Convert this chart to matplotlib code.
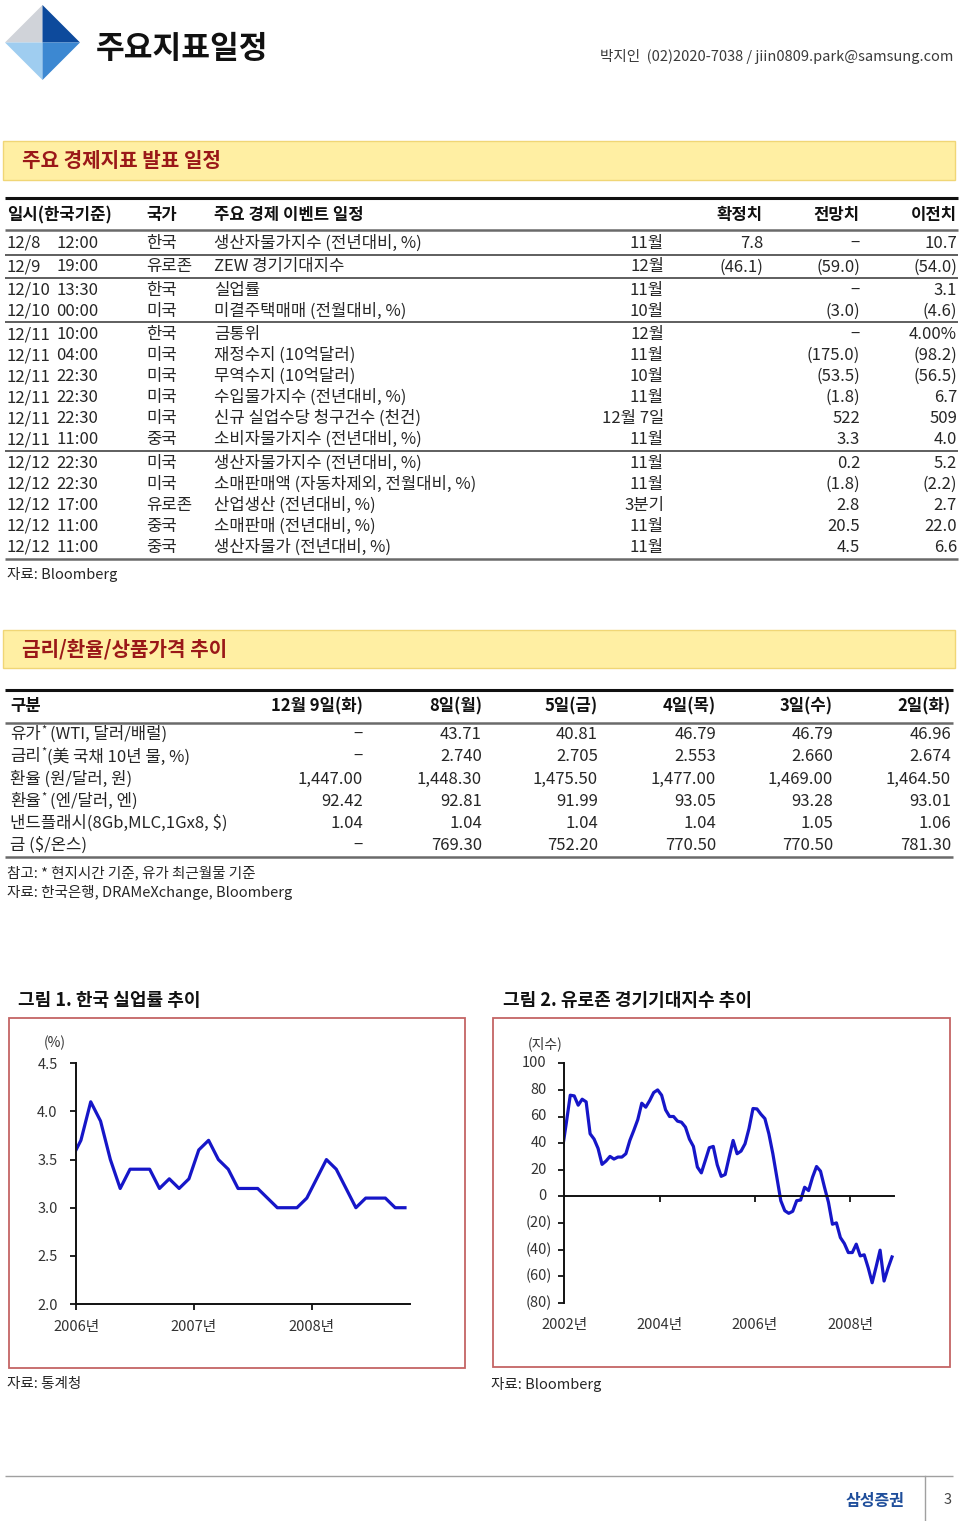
import matplotlib
matplotlib.use('Agg')
import matplotlib.pyplot as plt
from matplotlib.patches import Rectangle, Polygon
import matplotlib.transforms as mtransforms
import numpy as np

FAM = ['Noto Sans CJK KR', 'DejaVu Sans']
plt.rcParams['font.family'] = FAM

# ---------------- data ----------------
title = "주요지표일정"
contact = "박지인  (02)2020-7038 / jiin0809.park@samsung.com"
sec1_title = "주요 경제지표 발표 일정"
sec2_title = "금리/환율/상품가격 추이"

t1_headers = ["일시(한국기준)", "국가", "주요 경제 이벤트 일정", "확정치", "전망치", "이전치"]
t1_dates = ["12/8", "12/9", "12/10", "12/10", "12/11", "12/11", "12/11", "12/11", "12/11", "12/11",
            "12/12", "12/12", "12/12", "12/12", "12/12"]
t1_times = ["12:00", "19:00", "13:30", "00:00", "10:00", "04:00", "22:30", "22:30", "22:30", "11:00",
            "22:30", "22:30", "17:00", "11:00", "11:00"]
t1_country = ["한국", "유로존", "한국", "미국", "한국", "미국", "미국", "미국", "미국", "중국",
              "미국", "미국", "유로존", "중국", "중국"]
t1_event = ["생산자물가지수 (전년대비, %)", "ZEW 경기기대지수", "실업률", "미결주택매매 (전월대비, %)",
            "금통위", "재정수지 (10억달러)", "무역수지 (10억달러)", "수입물가지수 (전년대비, %)",
            "신규 실업수당 청구건수 (천건)", "소비자물가지수 (전년대비, %)", "생산자물가지수 (전년대비, %)",
            "소매판매액 (자동차제외, 전월대비, %)", "산업생산 (전년대비, %)", "소매판매 (전년대비, %)",
            "생산자물가 (전년대비, %)"]
t1_period = ["11월", "12월", "11월", "10월", "12월", "11월", "10월", "11월", "12월 7일", "11월",
             "11월", "11월", "3분기", "11월", "11월"]
t1_actual = ["7.8", "(46.1)", "", "", "", "", "", "", "", "", "", "", "", "", ""]
t1_forecast = ["−", "(59.0)", "−", "(3.0)", "−", "(175.0)", "(53.5)", "(1.8)", "522", "3.3",
               "0.2", "(1.8)", "2.8", "20.5", "4.5"]
t1_previous = ["10.7", "(54.0)", "3.1", "(4.6)", "4.00%", "(98.2)", "(56.5)", "6.7", "509", "4.0",
               "5.2", "(2.2)", "2.7", "22.0", "6.6"]
t1_groups = [1, 1, 2, 6, 5]
t1_source = "자료: Bloomberg"

t2_headers = ["구분", "12월 9일(화)", "8일(월)", "5일(금)", "4일(목)", "3일(수)", "2일(화)"]
t2_labels = ["유가* (WTI, 달러/배럴)", "금리*(美 국채 10년 물, %)", "환율 (원/달러, 원)",
             "환율* (엔/달러, 엔)", "낸드플래시(8Gb,MLC,1Gx8, $)", "금 ($/온스)"]
t2_oil = ["−", "43.71", "40.81", "46.79", "46.79", "46.96"]
t2_rate = ["−", "2.740", "2.705", "2.553", "2.660", "2.674"]
t2_krw = ["1,447.00", "1,448.30", "1,475.50", "1,477.00", "1,469.00", "1,464.50"]
t2_jpy = ["92.42", "92.81", "91.99", "93.05", "93.28", "93.01"]
t2_nand = ["1.04", "1.04", "1.04", "1.04", "1.05", "1.06"]
t2_gold = ["−", "769.30", "752.20", "770.50", "770.50", "781.30"]
t2_note = "참고: * 현지시간 기준, 유가 최근월물 기준"
t2_source = "자료: 한국은행, DRAMeXchange, Bloomberg"

fig1_title = "그림 1. 한국 실업률 추이"
fig2_title = "그림 2. 유로존 경기기대지수 추이"
fig1_source = "자료: 통계청"
fig2_source = "자료: Bloomberg"

# Korea unemployment rate (%), monthly Dec-2005 .. Oct-2008
kr_unemp = [3.5, 3.7, 4.1, 3.9, 3.5, 3.2, 3.4, 3.4, 3.4, 3.2, 3.3, 3.2, 3.3,
            3.6, 3.7, 3.5, 3.4, 3.2, 3.2, 3.2, 3.1, 3.0, 3.0, 3.0, 3.1,
            3.3, 3.5, 3.4, 3.2, 3.0, 3.1, 3.1, 3.1, 3.0, 3.0]
kr_year_labels = ["2006년", "2007년", "2008년"]
kr_yticks = [2.0, 2.5, 3.0, 3.5, 4.0, 4.5]

# Eurozone ZEW index, monthly Dec-2001 .. Nov-2008
zew = [35, 55, 76, 75.5, 68.5, 73, 71, 47, 43, 36, 24, 26.5, 30, 28, 29.5, 29.5, 32, 42,
       49.6, 57.7, 70, 67, 72, 78, 80, 76, 65, 60, 60, 56.5, 55.7, 52, 43, 37.5, 22, 17.6,
       27, 36.5, 37.5, 23.7, 15, 16.4, 29.5, 42, 32, 34, 39.5, 51, 66, 65.7, 61.7, 58.4,
       47, 32, 14.4, -3.3, -10.8, -12.8, -11.3, -3.3, -2.8, 6.8, 4.3, 14.4, 22.4, 18.9,
       6.8, -4.5, -21, -20, -31, -35.5, -42.3, -42.3, -36, -44.8, -44, -53.7, -65, -53,
       -40.5, -63.7, -54, -45.6]
zew_year_labels = ["2002년", "2004년", "2006년", "2008년"]
zew_yticks = [100, 80, 60, 40, 20, 0, -20, -40, -60, -80]

footer_brand = "삼성증권"
page_no = "3"

# ---------------- figure ----------------
W, H = 960, 1521
fig = plt.figure(figsize=(W / 100, H / 100), dpi=100)
fig.patch.set_facecolor('white')
page = fig.add_axes([0, 0, 1, 1], zorder=0)
page.set_xlim(0, W)
page.set_ylim(H, 0)
page.axis('off')

BODY = '#262626'
BLUE = '#1616C8'
FS = 12.0


def put(x, y, s, size=FS, weight='normal', color=BODY, ha='left', va='center', **kw):
    return page.text(x, y, s, fontsize=size, fontweight=weight, color=color, ha=ha, va=va,
                     family=FAM, parse_math=False, **kw)


def hline(y, x0, x1, color, lw):
    page.plot([x0, x1], [y, y], color=color, lw=lw, solid_capstyle='butt')


renderer = fig.canvas.get_renderer()

# ---- header ----
cx, cy, r = 42.5, 42.5, 37.5
page.add_patch(Polygon([(cx, cy - r), (cx - r, cy), (cx, cy)], closed=True, fc='#D0D3D9', ec='none'))
page.add_patch(Polygon([(cx, cy - r), (cx + r, cy), (cx, cy)], closed=True, fc='#0D4A9C', ec='none'))
page.add_patch(Polygon([(cx - r, cy), (cx, cy + r), (cx, cy)], closed=True, fc='#9FCDF0', ec='none'))
page.add_patch(Polygon([(cx + r, cy), (cx, cy + r), (cx, cy)], closed=True, fc='#3C88D2', ec='none'))
put(96, 49, title, size=22.5, weight='bold', color='#111111')
put(953, 57, contact, size=10.5, color='#3a3a3a', ha='right')

# ---- section boxes ----
for (y0, h, txt) in [(141, 39, sec1_title), (630, 38, sec2_title)]:
    page.add_patch(Rectangle((3, y0), 952, h, fc='#FFEFA3', ec='#F0D676', lw=1.0))
    put(22, y0 + h / 2, txt, size=14.5, weight='bold', color='#9A1818')

# ---- table 1 ----
hline(198, 5, 958, '#111111', 2.2)
hx = [7, 146, 214]
for x, s in zip(hx, t1_headers[:3]):
    put(x, 215, s, weight='bold', color='#111111')
for x, s in zip([763, 860, 957], t1_headers[3:]):
    put(x, 215, s, weight='bold', color='#111111', ha='right')
hline(230, 5, 958, '#6a6a6a', 1.8)

row_h, gap = 21.0, 2.4
y = 233.0
i = 0
for gi, g in enumerate(t1_groups):
    for _ in range(g):
        yc = y + row_h / 2
        put(7, yc, t1_dates[i])
        put(56, yc, t1_times[i])
        put(146, yc, t1_country[i])
        put(214, yc, t1_event[i])
        put(664, yc, t1_period[i], ha='right')
        put(763, yc, t1_actual[i], ha='right')
        put(860, yc, t1_forecast[i], ha='right')
        put(957, yc, t1_previous[i], ha='right')
        y += row_h
        i += 1
    if gi < len(t1_groups) - 1:
        hline(y + 0.6, 5, 958, '#333333', 1.1)
        y += gap
hline(y + 1.2, 5, 958, '#6a6a6a', 1.8)
put(7, 575, t1_source, size=10.5)

# ---- table 2 ----
hline(689.5, 5, 953, '#111111', 2.2)
put(10, 706.5, t2_headers[0], weight='bold', color='#111111')
col_r = [363, 482, 598, 716, 833, 951]
for x, s in zip(col_r, t2_headers[1:]):
    put(x, 706.5, s, weight='bold', color='#111111', ha='right')
hline(722.7, 5, 953, '#6a6a6a', 1.8)

rows2 = [t2_oil, t2_rate, t2_krw, t2_jpy, t2_nand, t2_gold]
rh2 = 22.2
y = 723.5
for lab, vals in zip(t2_labels, rows2):
    yc = y + rh2 / 2
    if '*' in lab:
        before, after = lab.split('*', 1)
        t = put(10, yc, before)
        x = 10 + t.get_window_extent(renderer).width + 0.5
        ts = put(x, yc - 5, '*', size=8)
        x += ts.get_window_extent(renderer).width + (4 if after.startswith(' ') else 0.5)
        put(x, yc, after.lstrip())
    else:
        put(10, yc, lab)
    for x, v in zip(col_r, vals):
        put(x, yc, v, ha='right')
    y += rh2
hline(y, 5, 953, '#6a6a6a', 1.8)
put(7, 873, t2_note, size=10.5)
put(7, 893, t2_source, size=10.5)

# ---- figure titles / frames ----
put(18, 1000, fig1_title, size=13, weight='bold', color='#111111')
put(503, 1000, fig2_title, size=13, weight='bold', color='#111111')
page.add_patch(Rectangle((9, 1018), 456, 350, fc='none', ec='#C46464', lw=1.3))
page.add_patch(Rectangle((493, 1018), 457, 349, fc='none', ec='#C46464', lw=1.3))
put(7, 1384, fig1_source, size=10.5)
put(491, 1384, fig2_source, size=10.5)

# ---- footer ----
hline(1476, 5, 953, '#a0a0a0', 1.0)
page.plot([925, 925], [1476, 1521], color='#a0a0a0', lw=1.0)
put(905, 1501, footer_brand, size=11.5, weight='bold', color='#1F4E9B', ha='right')
put(948, 1500, page_no, size=10.5, color='#444444', ha='center')


def fig_rect(l, r, t, b):
    return [l / W, 1 - b / H, (r - l) / W, (b - t) / H]


# ---- chart 1 : Korea unemployment ----
ax1 = fig.add_axes(fig_rect(76, 409.9, 1063.3, 1304), zorder=2)
ax1.set_facecolor('none')
x1 = np.arange(len(kr_unemp)) - 0.5
ax1.plot(x1, kr_unemp, color=BLUE, lw=2.3)
ax1.set_xlim(0, 34)
ax1.set_ylim(2.0, 4.5)
for s in ['top', 'right']:
    ax1.spines[s].set_visible(False)
for s in ['left', 'bottom']:
    ax1.spines[s].set_linewidth(1.4)
    ax1.spines[s].set_color('#111111')
ax1.set_yticks(kr_yticks)
ax1.set_yticklabels([f"{v:.1f}" for v in kr_yticks])
ax1.set_xticks(np.arange(len(kr_year_labels)) * 12)
ax1.set_xticklabels(kr_year_labels)
ax1.tick_params(axis='y', direction='out', length=4.3, width=1.3, pad=9, labelsize=10.5,
                colors='#111111', labelcolor='#333333')
ax1.tick_params(axis='x', direction='out', length=4.3, width=1.3, pad=7, labelsize=10.5,
                colors='#111111', labelcolor='#333333')
put(55, 1043, "(%)", size=10, color='#333333', ha='center')

# ---- chart 2 : Eurozone ZEW ----
ax2 = fig.add_axes(fig_rect(564.3, 894, 1063.3, 1302.7), zorder=2)
ax2.set_facecolor('none')
x2 = np.arange(len(zew)) - 0.5
ax2.plot(x2, zew, color=BLUE, lw=2.3)
ax2.set_xlim(0, 83)
ax2.set_ylim(-80, 100)
for s in ['top', 'right']:
    ax2.spines[s].set_visible(False)
ax2.spines['bottom'].set_position(('data', 0))
for s in ['left', 'bottom']:
    ax2.spines[s].set_linewidth(1.4)
    ax2.spines[s].set_color('#111111')
ax2.set_yticks(zew_yticks)
ax2.set_yticklabels([])
ax2.set_xticks(np.arange(1, len(zew_year_labels)) * 24)
ax2.set_xticklabels([])
ax2.tick_params(axis='both', direction='out', length=4.3, width=1.3, colors='#111111')
tr_neg = mtransforms.offset_copy(ax2.get_yaxis_transform(), fig=fig, x=-12.5, y=0, units='dots')
tr_pos = mtransforms.offset_copy(ax2.get_yaxis_transform(), fig=fig, x=-17.5, y=0, units='dots')
for v in zew_yticks:
    if v < 0:
        ax2.text(0, v, f"({-v})", transform=tr_neg, ha='right', va='center', fontsize=10.5,
                 color='#333333', family=FAM)
    else:
        ax2.text(0, v, f"{v}", transform=tr_pos, ha='right', va='center', fontsize=10.5,
                 color='#333333', family=FAM)
sec = ax2.secondary_xaxis('bottom')
sec.set_xticks(np.arange(len(zew_year_labels)) * 24)
sec.set_xticklabels(zew_year_labels)
sec.spines['bottom'].set_visible(False)
sec.tick_params(length=0, pad=11, labelsize=10.5, labelcolor='#333333')
put(545, 1044, "(지수)", size=10, color='#333333', ha='center')

fig.savefig('out.png', dpi=100, facecolor='white')
